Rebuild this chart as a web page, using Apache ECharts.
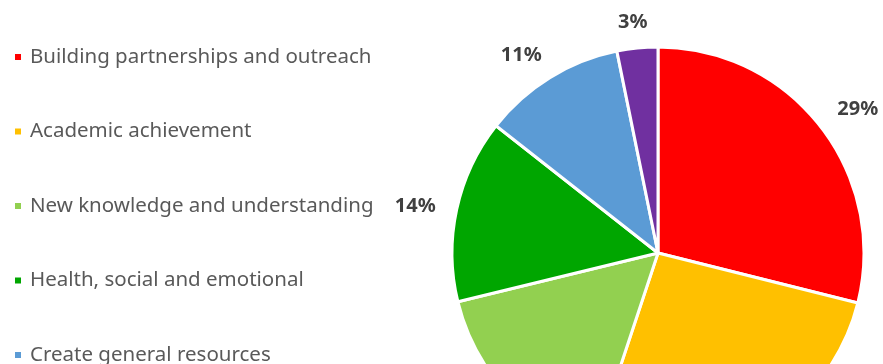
<!DOCTYPE html>
<html>
<head>
<meta charset="utf-8">
<script src="https://cdn.jsdelivr.net/npm/echarts@6/dist/echarts.min.js"></script>
<style>
  html, body { margin: 0; padding: 0; background: #ffffff; }
  #chart { width: 883px; height: 364px; }
</style>
</head>
<body>
<div id="chart"></div>
<script>
// Share of activities by focus area (percent)
const categories = [
  'Building partnerships and outreach',
  'Academic achievement',
  'New knowledge and understanding',
  'Health, social and emotional',
  'Create general resources',
  'Other'
];
const shares = [28.9, 26.2, 16.1, 14.4, 11.2, 3.2];
const colors = ['#FF0000', '#FFC000', '#92D050', '#00A600', '#5B9BD5', '#7030A0'];

const PIE_CENTER = [658, 253];
const PIE_RADIUS = 206;
const LABEL_ANCHOR_GAP = 21.5;
const LABEL_BASELINE_SHIFT = 4;

const pieData = categories.map((name, i) => ({ name, value: shares[i] }));

const chart = echarts.init(document.getElementById('chart'), null, { renderer: 'canvas' });

// "Outside end" placement: anchor a point just beyond the rim on the
// slice's mid direction, then hang the label box off that point on the
// side facing away from the pie.
function outsideEnd(params) {
  const r = params.labelRect;
  const hw = r.width / 2, hh = r.height * 0.4;
  const lx = r.x + r.width / 2, ly = r.y + r.height / 2;
  let ux = lx - PIE_CENTER[0], uy = ly - PIE_CENTER[1];
  const len = Math.hypot(ux, uy) || 1;
  ux /= len; uy /= len;
  const clamp = v => Math.max(-1, Math.min(1, v));
  const a = PIE_RADIUS + LABEL_ANCHOR_GAP;
  return {
    x: PIE_CENTER[0] + ux * a + clamp(ux * 1.6) * hw,
    y: PIE_CENTER[1] + uy * a + clamp(uy * 1.5) * hh + LABEL_BASELINE_SHIFT,
    align: 'center',
    verticalAlign: 'middle'
  };
}

chart.setOption({
  animation: false,
  color: colors,
  legend: {
    orient: 'vertical',
    left: 8,
    top: 41,
    height: 600,
    itemWidth: 8,
    itemHeight: 8,
    itemGap: 52.5,
    icon: 'rect',
    data: categories,
    textStyle: {
      fontFamily: 'Noto Sans',
      fontSize: 20.5,
      color: '#595959',
      lineHeight: 22,
      padding: [0, 0, 0, 3]
    }
  },
  series: [
    {
      type: 'pie',
      center: PIE_CENTER,
      radius: PIE_RADIUS,
      startAngle: 90,
      clockwise: true,
      data: pieData,
      itemStyle: { borderColor: '#ffffff', borderWidth: 3 },
      label: {
        show: true,
        position: 'inside',
        fontFamily: 'Noto Sans',
        fontWeight: 'bold',
        fontSize: 20,
        lineHeight: 20,
        color: '#404040',
        formatter: p => Math.round(p.percent) + '%'
      },
      labelLine: { show: false },
      labelLayout: outsideEnd,
      emphasis: { disabled: true }
    }
  ]
});
</script>
</body>
</html>
